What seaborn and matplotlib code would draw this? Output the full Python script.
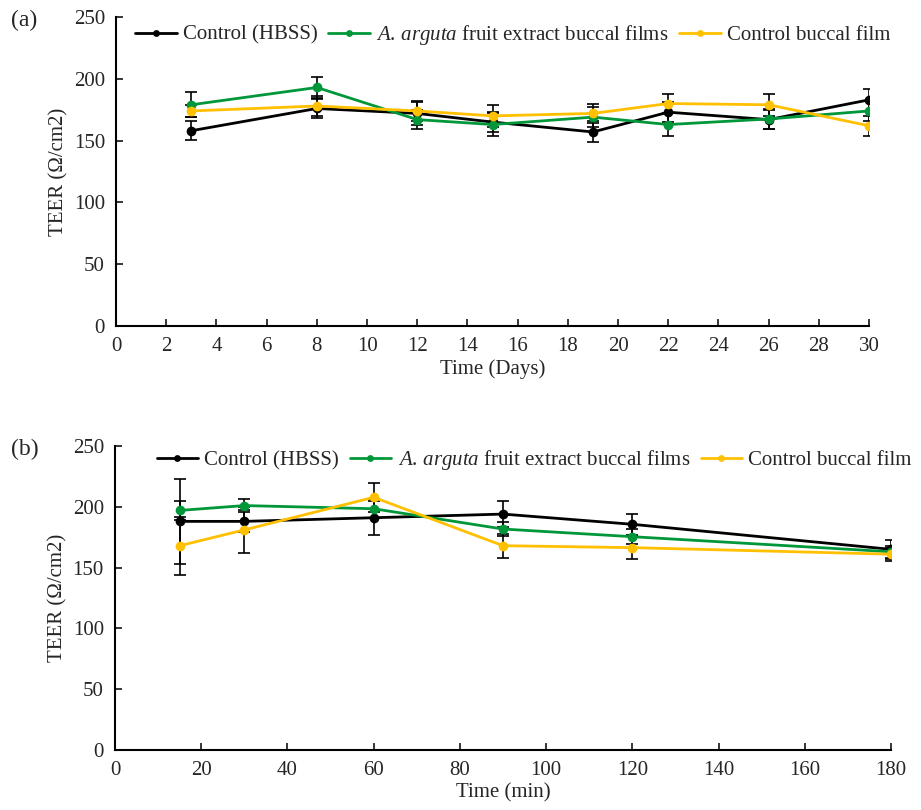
import numpy as np
import pandas as pd
import matplotlib
matplotlib.use("Agg")
import matplotlib.pyplot as plt
import seaborn as sns

# series names and colours
series = ["Control (HBSS)", r"$\it{A.\,arguta}$ fruit extract buccal films", "Control buccal film"]
colors = ["#000000", "#00973A", "#FFC000"]

# panel (a): TEER over days
days = [3, 8, 12, 15, 19, 22, 26, 30]
a_hbss = [158, 176, 172, 165, 157, 173, 167, 183]
a_arguta = [179, 193, 167, 163, 169, 163, 167.5, 174]
a_film = [174, 178, 174, 170, 172, 180, 179, 162]
a_hbss_err = [7.5, 8, 9, 8, 8.5, 8, 8, 9]
a_arguta_err = [10, 8.5, 8, 9, 8, 9, 8, 8]
a_film_err = [5, 8, 8, 9, 8, 8, 9, 8]

# panel (b): TEER over minutes
minutes = [15, 30, 60, 90, 120, 180]
b_hbss = [188, 188, 191, 194, 185.6, 165]
b_arguta = [197, 201, 198.4, 181.7, 175.4, 163]
b_film = [168, 181, 207.8, 168, 166.4, 161]
b_hbss_err = [35, 9, 14, 11, 8.5, 7.7]
b_arguta_err = [8, 5, 8, 6, 6, 5]
b_film_err = [24, 19, 12, 10, 9.6, 5.5]

sns.set_theme(style="white")
plt.rcParams["font.family"] = ["Liberation Serif", "DejaVu Serif"]
plt.rcParams["mathtext.fontset"] = "custom"
plt.rcParams["mathtext.rm"] = "Liberation Serif"
plt.rcParams["mathtext.it"] = "Liberation Serif:italic"

FS = 15


def panel(ax, x, ys, errs, xmax, xstep, xlabel):
    rows = []
    for name, vals in zip(series, ys):
        for xi, v in zip(x, vals):
            rows.append({"x": xi, "TEER": v, "series": name})
    df = pd.DataFrame(rows)
    for name, vals, err in zip(series, ys, errs):
        ax.errorbar(x, vals, yerr=err, fmt="none", ecolor="black",
                    elinewidth=1.2, capsize=4.5, capthick=1.2, zorder=1)
    sns.lineplot(data=df, x="x", y="TEER", hue="series", hue_order=series,
                 palette=colors, marker="o", markersize=7, markeredgewidth=0,
                 linewidth=2, ax=ax, zorder=3)
    ax.set_xlim(0, xmax)
    ax.set_ylim(0, 250)
    ax.set_xticks(np.arange(0, xmax + 1, xstep))
    ax.set_yticks(np.arange(0, 251, 50))
    ax.set_xlabel(xlabel, fontsize=FS, labelpad=2)
    ax.set_ylabel("TEER (Ω/cm2)", fontsize=FS)
    ax.tick_params(direction="in", length=5, width=1.3, labelsize=FS, pad=8,
                   left=True, bottom=True)
    for s in ["top", "right"]:
        ax.spines[s].set_visible(False)
    for s in ["left", "bottom"]:
        ax.spines[s].set_linewidth(1.5)
        ax.spines[s].set_color("black")
    ax.legend_.remove()
    return ax.get_legend_handles_labels()


fig = plt.figure(figsize=(9.21, 8.10), dpi=100)
ax1 = fig.add_axes([0.126, 0.5975, 0.8176, 0.3815])
ax2 = fig.add_axes([0.1249, 0.0741, 0.8425, 0.3753])

h1, l1 = panel(ax1, days, [a_hbss, a_arguta, a_film],
               [a_hbss_err, a_arguta_err, a_film_err], 30, 2, "Time (Days)")
h2, l2 = panel(ax2, minutes, [b_hbss, b_arguta, b_film],
               [b_hbss_err, b_arguta_err, b_film_err], 180, 20, "Time (min)")

for h, l, cx, cy in [(h1, l1, 0.557, 0.957), (h2, l2, 0.580, 0.432)]:
    fig.legend(h, l, loc="center", bbox_to_anchor=(cx, cy), ncol=3,
               frameon=False, fontsize=FS, handlelength=2, handletextpad=0.3,
               columnspacing=0.5, markerscale=0.7, borderpad=0, borderaxespad=0)

fig.text(0.012, 0.975, "(a)", fontsize=FS + 2, va="center")
fig.text(0.012, 0.445, "(b)", fontsize=FS + 2, va="center")

fig.savefig("out.png", dpi=100)
